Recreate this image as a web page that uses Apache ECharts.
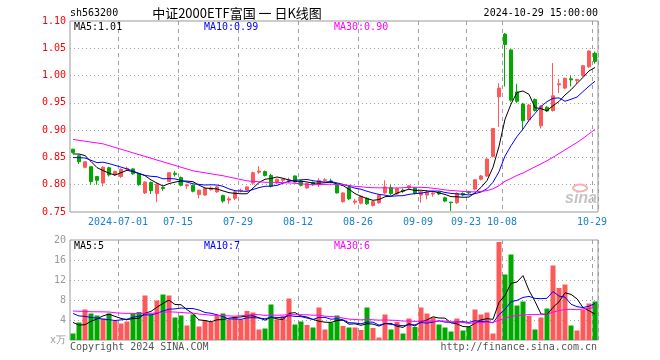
<!DOCTYPE html>
<html><head><meta charset="utf-8">
<script src="https://cdn.jsdelivr.net/npm/echarts/dist/echarts.min.js"></script>
<style>html,body{margin:0;padding:0;background:#fff}#c{width:660px;height:360px}</style>
</head><body><div id="c"></div>
<script>
const dates = [
'2024-06-19','2024-06-20','2024-06-21','2024-06-24','2024-06-25','2024-06-26','2024-06-27','2024-06-28',
'2024-07-01','2024-07-02','2024-07-03','2024-07-04','2024-07-05','2024-07-08','2024-07-09','2024-07-10','2024-07-11','2024-07-12',
'2024-07-15','2024-07-16','2024-07-17','2024-07-18','2024-07-19','2024-07-22','2024-07-23','2024-07-24','2024-07-25','2024-07-26',
'2024-07-29','2024-07-30','2024-07-31',
'2024-08-01','2024-08-02','2024-08-05','2024-08-06','2024-08-07','2024-08-08','2024-08-09','2024-08-12','2024-08-13','2024-08-14',
'2024-08-15','2024-08-16','2024-08-19','2024-08-20','2024-08-21','2024-08-22','2024-08-23','2024-08-26','2024-08-27','2024-08-28',
'2024-08-29','2024-08-30',
'2024-09-02','2024-09-03','2024-09-04','2024-09-05','2024-09-06','2024-09-09','2024-09-10','2024-09-11','2024-09-12','2024-09-13',
'2024-09-18','2024-09-19','2024-09-20','2024-09-23','2024-09-24','2024-09-25','2024-09-26','2024-09-27','2024-09-30',
'2024-10-08','2024-10-09','2024-10-10','2024-10-11','2024-10-14','2024-10-15','2024-10-16','2024-10-17','2024-10-18',
'2024-10-21','2024-10-22','2024-10-23','2024-10-24','2024-10-25','2024-10-28','2024-10-29'];

const tickDates  = ['2024-07-01','2024-07-15','2024-07-29','2024-08-12','2024-08-26','2024-09-09','2024-09-23','2024-10-08','2024-10-29'];
const tickLabels = ['2024-07-01','07-15','07-29','08-12','08-26','09-09','09-23','10-08','10-29'];

const opens = [0.865,0.853,0.832,0.833,0.815,0.803,0.831,0.818,0.815,0.829,0.829,0.820,0.785,0.804,0.784,0.795,0.806,0.821,0.813,0.798,
0.799,0.782,0.781,0.791,0.787,0.780,0.772,0.775,0.789,0.790,0.803,0.823,0.824,0.817,0.803,0.808,0.807,0.816,0.807,0.794,
0.804,0.800,0.808,0.807,0.800,0.769,0.795,0.768,0.766,0.775,0.762,0.767,0.785,0.795,0.783,0.790,0.794,0.794,0.781,0.781,
0.783,0.786,0.776,0.768,0.767,0.784,0.787,0.792,0.810,0.816,0.852,0.961,1.076,1.047,0.970,0.948,0.919,0.956,0.908,0.942,
0.936,0.983,0.977,0.994,0.991,1.000,1.016,1.041];
const closes = [0.859,0.842,0.842,0.806,0.808,0.832,0.818,0.824,0.828,0.830,0.820,0.800,0.805,0.789,0.801,0.793,0.822,0.819,0.799,0.800,
0.788,0.790,0.793,0.794,0.796,0.770,0.774,0.787,0.790,0.796,0.822,0.825,0.817,0.797,0.810,0.810,0.809,0.805,0.799,0.802,
0.800,0.808,0.809,0.805,0.785,0.785,0.774,0.770,0.779,0.765,0.769,0.781,0.796,0.784,0.793,0.788,0.798,0.784,0.787,0.786,
0.785,0.783,0.770,0.767,0.784,0.781,0.785,0.809,0.816,0.847,0.903,0.977,1.057,0.955,0.953,0.917,0.946,0.936,0.944,0.935,
0.963,0.985,0.995,0.992,0.993,1.018,1.045,1.026];
const lows = [0.857,0.838,0.830,0.800,0.800,0.797,0.815,0.816,0.812,0.827,0.818,0.798,0.783,0.783,0.768,0.789,0.805,0.815,0.797,0.792,
0.786,0.775,0.780,0.789,0.785,0.767,0.765,0.772,0.786,0.789,0.800,0.820,0.815,0.795,0.801,0.805,0.803,0.804,0.797,0.793,
0.798,0.796,0.806,0.803,0.784,0.767,0.772,0.764,0.764,0.763,0.760,0.765,0.783,0.781,0.781,0.785,0.792,0.782,0.767,0.773,
0.778,0.781,0.768,0.752,0.765,0.779,0.783,0.790,0.808,0.814,0.850,0.906,0.980,0.952,0.950,0.900,0.915,0.934,0.903,0.933,
0.934,0.968,0.975,0.980,0.985,0.998,1.014,1.022];
const highs = [0.866,0.855,0.843,0.834,0.816,0.834,0.833,0.826,0.830,0.833,0.830,0.821,0.806,0.806,0.803,0.797,0.823,0.825,0.815,0.802,
0.800,0.791,0.795,0.797,0.798,0.782,0.778,0.788,0.793,0.797,0.824,0.834,0.826,0.820,0.811,0.812,0.813,0.817,0.808,0.804,
0.806,0.812,0.812,0.811,0.802,0.786,0.797,0.774,0.780,0.777,0.771,0.783,0.808,0.800,0.795,0.793,0.799,0.796,0.789,0.790,
0.788,0.788,0.778,0.769,0.786,0.786,0.789,0.810,0.818,0.848,0.904,0.986,1.078,1.048,0.985,0.950,0.948,0.958,0.946,0.944,
1.023,0.994,0.996,1.000,0.994,1.019,1.046,1.044];
const volumes = [1.3,3.5,6.1,5.3,4.9,4.3,5.3,3.8,3.3,3.7,5.3,5.6,8.9,5.1,7.9,9.1,8.9,4.5,4.9,2.9,
5.1,2.7,3.9,3.6,4.9,5.3,4.1,4.7,4.1,5.8,5.5,2.1,2.3,7.1,4.1,4.8,8.3,3.1,3.7,3.0,
2.5,6.5,2.1,3.5,4.9,2.8,2.5,2.5,2.0,6.5,2.4,0.5,5.1,2.1,3.6,1.3,4.3,2.6,6.5,5.3,
4.5,3.1,2.5,1.7,4.3,1.9,2.7,6.1,5.1,5.5,1.3,19.6,13.1,17.1,6.9,7.7,4.8,2.1,4.5,6.3,
14.9,10.4,11.1,2.9,1.9,6.1,7.3,7.7];
// estimated sessions before the first visible day (only feed the moving averages)
const priorCloses = [0.891,0.888,0.857,0.855,0.881,0.916,0.924,0.926,0.930,0.918,0.900,0.903,0.889,0.899,0.893,0.920,0.917,0.899,0.898,0.888,
0.844,0.847,0.849,0.850,0.825,0.843,0.856,0.860,0.864];
const priorVolumes = [5.2,6.8,7.5,5.1,4.6,6.3,8.2,5.9,4.8,5.5,6.9,7.3,5.0,4.4,6.1,6.6,5.8,7.0,6.2,5.8,
8.4,6.9,7.6,6.2,6.4,6.1,5.7,1.9,2.5];

const priceTicks = [0.75,0.80,0.85,0.90,0.95,1.00,1.05,1.10];
const volTicks = [0,4,8,12,16,20];

const UP = '#ff5858', DOWN = '#00a800';
const mono = '"DejaVu Sans Mono"';
const GRIDC = '#a0a0a0';

function movingAvg(prior, vals, n) {
  const all = prior.concat(vals), off = prior.length;
  return vals.map((_, i) => {
    let s = 0;
    for (let k = off + i - n + 1; k <= off + i; k++) s += all[k];
    return +(s / n).toFixed(4);
  });
}
const labelMap = {};
tickDates.forEach((d, i) => labelMap[d] = tickLabels[i]);
const isTick = (i) => labelMap[dates[i]] !== undefined;

const kData = dates.map((d, i) => [opens[i], closes[i], lows[i], highs[i]]);
const volData = volumes.map((v, i) => ({value: v, itemStyle: {color: closes[i] >= opens[i] ? UP : DOWN}}));

const chart = echarts.init(document.getElementById('c'), null, {renderer: 'canvas'});
const xBase = (gi, showLabel) => ({
  type: 'category', gridIndex: gi, data: dates, boundaryGap: true,
  axisLine: {show: false}, axisTick: {show: false},
  axisLabel: {show: showLabel, interval: (i) => isTick(i), formatter: (v) => labelMap[v] || '',
    color: '#1a80d0', fontFamily: mono, fontSize: 10, margin: 5, padding: [0, 6, 0, 0]},
  splitLine: {show: true, interval: (i) => isTick(i), lineStyle: {color: GRIDC, type: [4, 4], width: 1}}
});
const lineS = (name, data, color, xi, yi) => ({
  name, type: 'line', data, xAxisIndex: xi, yAxisIndex: yi, symbol: 'none', smooth: false,
  lineStyle: {color, width: 1}, itemStyle: {color}, z: 5, silent: true
});

chart.setOption({
  animation: false,
  backgroundColor: '#ffffff',
  grid: [
    {left: 70, top: 21, width: 528, height: 191, show: true, borderColor: '#999', borderWidth: 1, backgroundColor: 'transparent'},
    {left: 70, top: 240, width: 528, height: 100, show: true, borderColor: '#999', borderWidth: 1, backgroundColor: 'transparent'}
  ],
  xAxis: [xBase(0, true), xBase(1, false)],
  yAxis: [
    {type: 'value', gridIndex: 0, min: priceTicks[0], max: priceTicks[priceTicks.length - 1], interval: 0.05,
      axisLine: {show: false}, axisTick: {show: false},
      axisLabel: {color: '#ff0000', fontFamily: mono, fontSize: 10, margin: 4, formatter: (v) => v.toFixed(2)},
      splitLine: {show: true, showMinLine: false, showMaxLine: false, lineStyle: {color: GRIDC, type: [1, 3]}}},
    {type: 'value', gridIndex: 1, min: volTicks[0], max: volTicks[volTicks.length - 1], interval: 4,
      axisLine: {show: false}, axisTick: {show: false},
      axisLabel: {color: '#999999', fontFamily: mono, fontSize: 10, margin: 4, formatter: (v) => v === 0 ? 'x万' : String(v)},
      splitLine: {show: true, showMinLine: false, showMaxLine: false, lineStyle: {color: GRIDC, type: [1, 3]}}}
  ],
  series: [
    {type: 'candlestick', xAxisIndex: 0, yAxisIndex: 0, data: kData, barWidth: 4,
      itemStyle: {color: UP, color0: DOWN, borderColor: UP, borderColor0: DOWN, borderWidth: 1}, z: 3},
    lineS('MA5', movingAvg(priorCloses, closes, 5), '#000000', 0, 0),
    lineS('MA10', movingAvg(priorCloses, closes, 10), '#0000ff', 0, 0),
    lineS('MA30', movingAvg(priorCloses, closes, 30), '#ff00ff', 0, 0),
    {type: 'bar', xAxisIndex: 1, yAxisIndex: 1, data: volData, barWidth: 5, z: 3},
    lineS('VMA5', movingAvg(priorVolumes, volumes, 5), '#000000', 1, 1),
    lineS('VMA10', movingAvg(priorVolumes, volumes, 10), '#0000ff', 1, 1),
    lineS('VMA30', movingAvg(priorVolumes, volumes, 30), '#ff00ff', 1, 1)
  ],
  graphic: [
    {type: 'text', x: 70, y: 13, style: {text: 'sh563200', font: '10px ' + mono, fill: '#000', verticalAlign: 'middle'}},
    {type: 'text', x: 237, y: 13, style: {text: '中证2000ETF富国 一 日K线图', font: '13px "Noto Sans CJK SC"', fill: '#000', align: 'center', verticalAlign: 'middle'}},
    {type: 'text', x: 598, y: 13, style: {text: '2024-10-29 15:00:00', font: '10px ' + mono, fill: '#000', align: 'right', verticalAlign: 'middle'}},
    {type: 'text', x: 74, y: 27, z: 10, style: {text: 'MA5:1.01', font: '10px ' + mono, fill: '#000', verticalAlign: 'middle'}},
    {type: 'text', x: 204, y: 27, z: 10, style: {text: 'MA10:0.99', font: '10px ' + mono, fill: '#0000ff', verticalAlign: 'middle'}},
    {type: 'text', x: 334, y: 27, z: 10, style: {text: 'MA30:0.90', font: '10px ' + mono, fill: '#ff00ff', verticalAlign: 'middle'}},
    {type: 'text', x: 74, y: 246, z: 10, style: {text: 'MA5:5', font: '10px ' + mono, fill: '#000', verticalAlign: 'middle'}},
    {type: 'text', x: 204, y: 246, z: 10, style: {text: 'MA10:7', font: '10px ' + mono, fill: '#0000ff', verticalAlign: 'middle'}},
    {type: 'text', x: 334, y: 246, z: 10, style: {text: 'MA30:6', font: '10px ' + mono, fill: '#ff00ff', verticalAlign: 'middle'}},
    {type: 'text', x: 70, y: 347, style: {text: 'Copyright 2024 SINA.COM', font: '10px ' + mono, fill: '#555', verticalAlign: 'middle'}},
    {type: 'text', x: 597, y: 347, style: {text: 'http://finance.sina.com.cn', font: '10px ' + mono, fill: '#555', align: 'right', verticalAlign: 'middle'}},
    {type: 'ellipse', shape: {cx: 580, cy: 188, rx: 7, ry: 3.5}, style: {fill: 'none', stroke: '#f2b0b0', lineWidth: 2}, z: 1},
    {type: 'text', x: 581, y: 199, z: 1, style: {text: 'sina', font: 'italic bold 16px "Liberation Sans"', fill: '#c4c4c4', align: 'center', verticalAlign: 'middle'}}
  ]
});
</script>
</body></html>
